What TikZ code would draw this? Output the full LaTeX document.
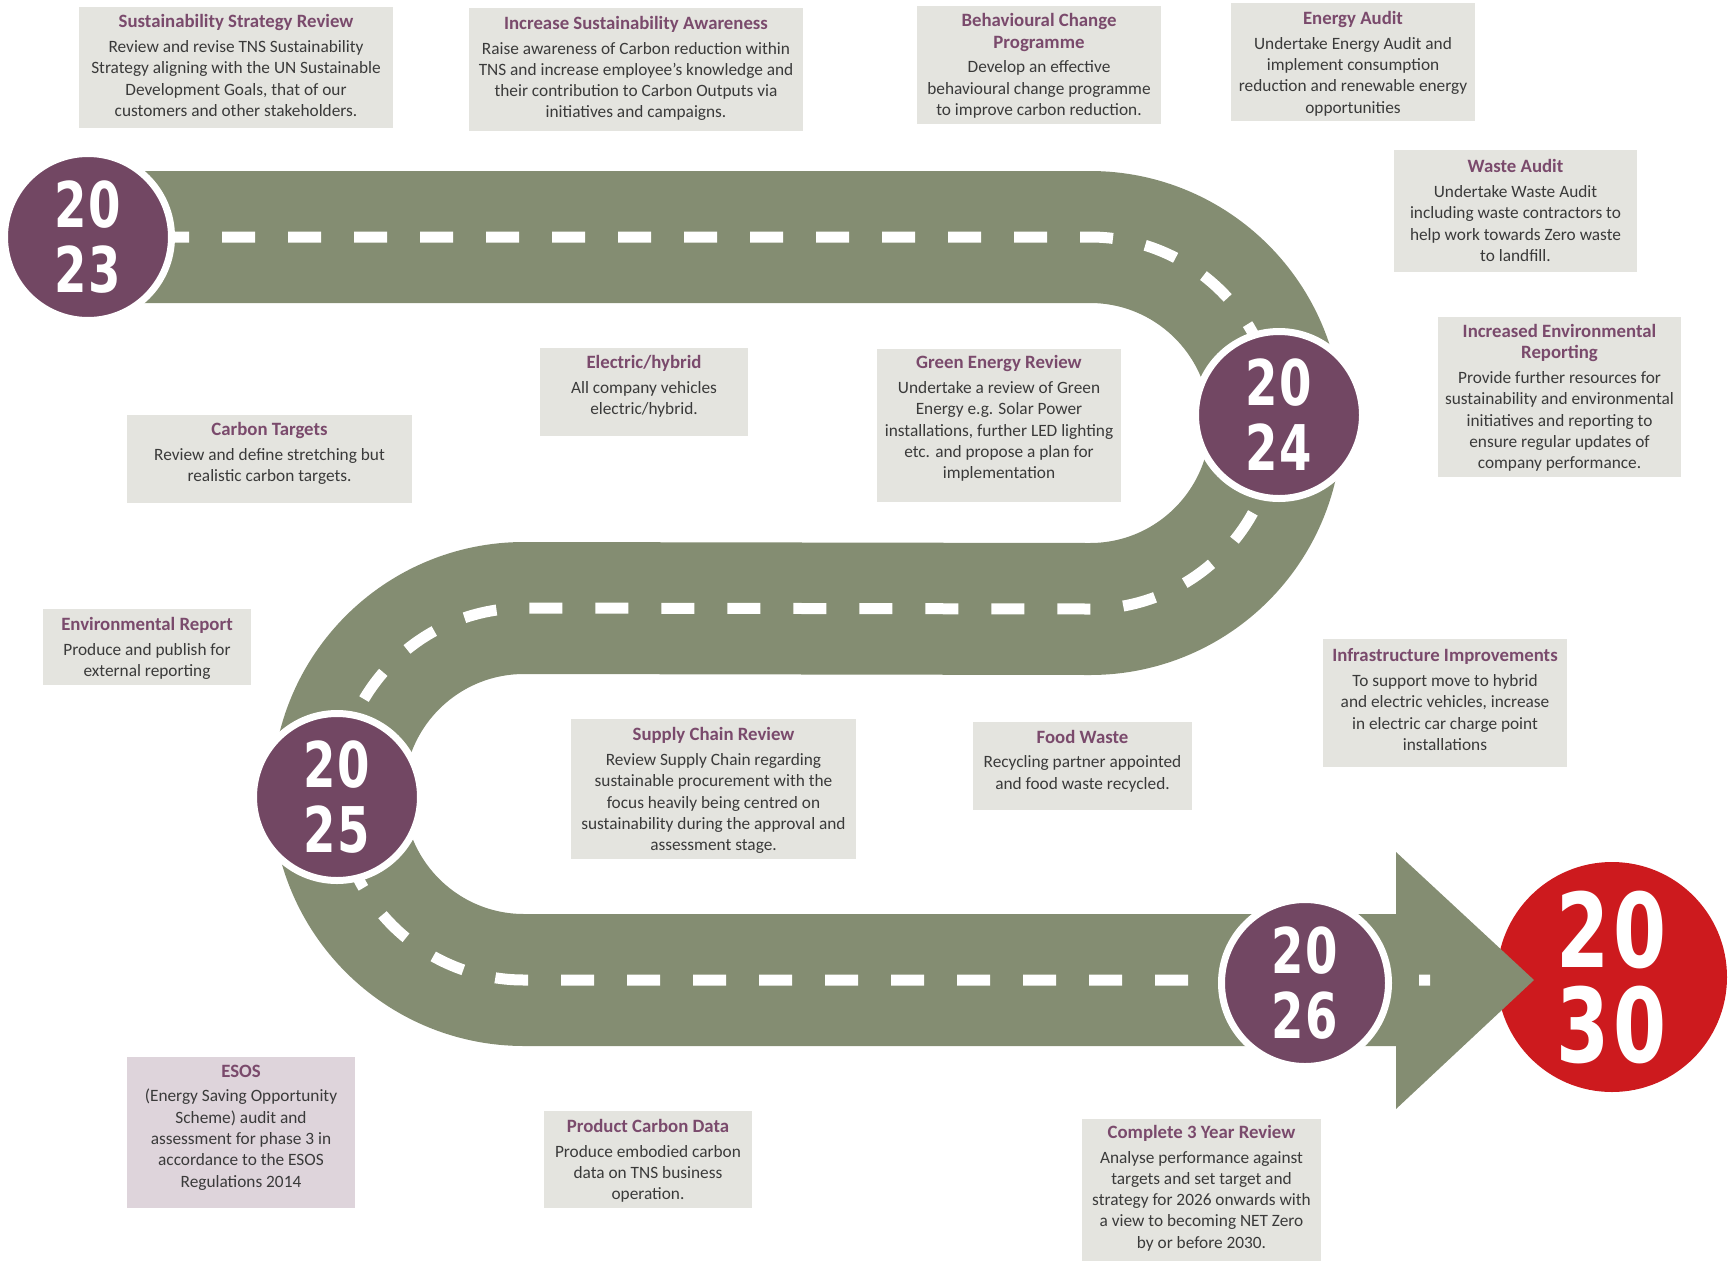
\documentclass[tikz,border=0pt]{standalone}
\usepackage{fontspec}
\setmainfont{Carlito}
\newfontfamily\yearfont{DejaVu Sans}[FakeStretch=0.74]

\definecolor{road}{HTML}{848D72}
\definecolor{plum}{HTML}{724763}
\definecolor{headplum}{HTML}{7A4A6C}
\definecolor{boxgrey}{HTML}{E4E4DF}
\definecolor{esospink}{HTML}{DED4DB}
\definecolor{netred}{HTML}{CD1A1E}
\definecolor{bodytext}{HTML}{3A3A3A}

\newcommand{\boxhead}[1]{{\color{headplum}\bfseries\fontsize{18.8}{21.3}\selectfont #1}}

\begin{document}
\begin{tikzpicture}[x=1pt, y=-1pt,
    box/.style = {fill=boxgrey, inner sep=0pt},
    info/.style = {align=center, inner sep=0pt, text=bodytext,
                   font=\fontsize{17.3}{21.3}\selectfont},
    yearball/.style = {circle, fill=plum, draw=white, line width=7pt,
                       minimum size=167pt, inner sep=0pt, text=white, align=center,
                       font=\yearfont\bfseries\fontsize{63}{65}\selectfont},
    goalball/.style = {circle, fill=netred, minimum size=230pt, inner sep=0pt,
                       text=white, align=center,
                       font=\yearfont\bfseries\fontsize{103}{95}\selectfont}]

        \useasboundingbox (0,0) rectangle (1730,1267);

        \node[goalball] (y30) at (1612,977) {2\kern4pt0\\3\kern4pt0};

        % the road
        \draw[road, line width=132pt] (90,237) -- (1090,237)
            arc[start angle=-90, end angle=90, radius=186] -- (524,608)
            arc[start angle=-90, end angle=-270, radius=186] -- (1397,980);
        \fill[road] (1396,852) -- (1534,980) -- (1396,1109) -- cycle;
        \draw[white, line width=11pt, dash pattern=on 33pt off 33pt] (90,237) -- (1090,237)
            arc[start angle=-90, end angle=90, radius=186] -- (524,608)
            arc[start angle=-90, end angle=-270, radius=186] -- (1430,980);

        \node[yearball] (y23) at (88,237) {2\kern2pt0\\2\kern2pt3};
        \node[yearball] (y24) at (1279,415) {2\kern2pt0\\2\kern2pt4};
        \node[yearball] (y25) at (337,797) {2\kern2pt0\\2\kern2pt5};
        \node[yearball] (y26) at (1305,983) {2\kern2pt0\\2\kern2pt6};

        \node[box, minimum width=314pt, minimum height=121pt] (srbox) at (236,67.5) {};
        \node[info] (sr) at (236,65.5) {\boxhead{Sustainability Strategy Review}\\[3.5pt]
            Review and revise TNS Sustainability\\ Strategy aligning with the UN Sustainable\\
            Development Goals, that of our\\ customers and other stakeholders.};

        \node[box, minimum width=334pt, minimum height=123pt] (sabox) at (636,69.5) {};
        \node[info] (sa) at (636,68.5) {\boxhead{Increase Sustainability Awareness}\\[3.5pt]
            Raise awareness of Carbon reduction within\\ TNS and increase employee’s knowledge and\\
            their contribution to Carbon Outputs via\\ initiatives and campaigns.};

        \node[box, minimum width=244pt, minimum height=118pt] (bcbox) at (1039,65) {};
        \node[info] (bc) at (1039,66) {\boxhead{Behavioural Change}\\ \boxhead{Programme}\\[3.5pt]
            Develop an effective\\ behavioural change programme\\ to improve carbon reduction.};

        \node[box, minimum width=244pt, minimum height=118pt] (eabox) at (1353,62) {};
        \node[info] (ea) at (1353,63.5) {\boxhead{Energy Audit}\\[3.5pt]
            Undertake Energy Audit and\\ implement consumption\\
            reduction and renewable energy\\ opportunities};

        \node[box, minimum width=243pt, minimum height=122pt] (wabox) at (1515.5,211) {};
        \node[info] (wa) at (1515.5,210.5) {\boxhead{Waste Audit}\\[3.5pt]
            Undertake Waste Audit\\ including waste contractors to\\
            help work towards Zero waste\\ to landfill.};

        \node[box, minimum width=243pt, minimum height=160pt] (erbox) at (1559.5,397) {};
        \node[info] (er) at (1559.5,398) {\boxhead{Increased Environmental}\\ \boxhead{Reporting}\\[3.5pt]
            Provide further resources for\\ sustainability and environmental\\
            initiatives and reporting to\\ ensure regular updates of\\ company performance.};

        \node[box, minimum width=244pt, minimum height=153pt] (gebox) at (999,425.5) {};
        \node[info] (ge) at (999,418.5) {\boxhead{Green Energy Review}\\[3.5pt]
            Undertake a review of Green\\ Energy e.g. Solar Power\\
            installations, further LED lighting\\ etc. and propose a plan for\\ implementation};

        \node[box, minimum width=208pt, minimum height=88pt] (ehbox) at (644,392) {};
        \node[info] (eh) at (644,386.5) {\boxhead{Electric/hybrid}\\[3.5pt]
            All company vehicles\\ electric/hybrid.};

        \node[box, minimum width=285pt, minimum height=88pt] (ctbox) at (269.5,459) {};
        \node[info] (ct) at (269.5,453.5) {\boxhead{Carbon Targets}\\[3.5pt]
            Review and define stretching but\\ realistic carbon targets.};

        \node[box, minimum width=208pt, minimum height=76pt] (rpbox) at (147,647) {};
        \node[info] (rp) at (147,648.5) {\boxhead{Environmental Report}\\[3.5pt]
            Produce and publish for\\ external reporting};

        \node[box, minimum width=285pt, minimum height=140pt] (scbox) at (713.5,789) {};
        \node[info] (sc) at (713.5,790.5) {\boxhead{Supply Chain Review}\\[3.5pt]
            Review Supply Chain regarding\\ sustainable procurement with the\\
            focus heavily being centred on\\ sustainability during the approval and\\
            assessment stage.};

        \node[box, minimum width=219pt, minimum height=88pt] (fwbox) at (1082.5,766) {};
        \node[info] (fw) at (1082.5,761) {\boxhead{Food Waste}\\[3.5pt]
            Recycling partner appointed\\ and food waste recycled.};

        \node[box, minimum width=244pt, minimum height=128pt] (iibox) at (1445,703) {};
        \node[info] (ii) at (1445,699.5) {\boxhead{Infrastructure Improvements}\\[3.5pt]
            To support move to hybrid\\ and electric vehicles, increase\\
            in electric car charge point\\ installations};

        \node[box, fill=esospink, minimum width=228pt, minimum height=151pt] (esbox) at (241,1132.5) {};
        \node[info] (es) at (241,1127.5) {\boxhead{ESOS}\\[3.5pt]
            (Energy Saving Opportunity\\ Scheme) audit and\\ assessment for phase 3 in\\
            accordance to the ESOS\\ Regulations 2014};

        \node[box, minimum width=208pt, minimum height=97pt] (pcbox) at (648,1159.5) {};
        \node[info] (pc) at (648,1161) {\boxhead{Product Carbon Data}\\[3.5pt]
            Produce embodied carbon\\ data on TNS business\\ operation.};

        \node[box, minimum width=239pt, minimum height=142pt] (tybox) at (1201.5,1190) {};
        \node[info] (ty) at (1201.5,1188) {\boxhead{Complete 3 Year Review}\\[3.5pt]
            Analyse performance against\\ targets and set target and\\
            strategy for 2026 onwards with\\ a view to becoming NET Zero\\ by or before 2030.};

\end{tikzpicture}
\end{document}
